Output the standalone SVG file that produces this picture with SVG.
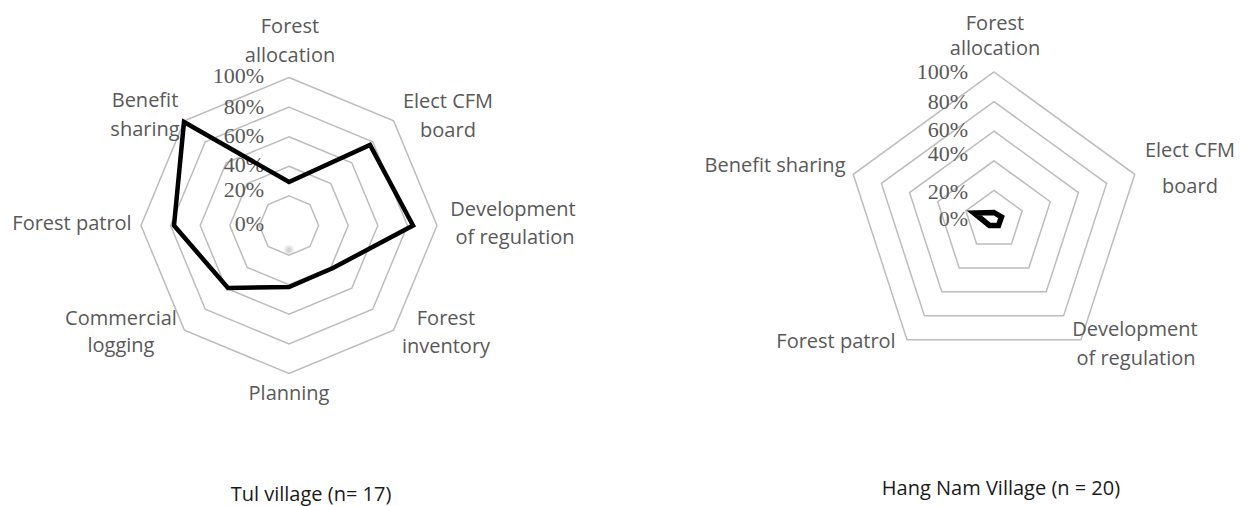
<svg xmlns="http://www.w3.org/2000/svg" width="1243" height="506" viewBox="0 0 1243 506">
<style>
.grid{fill:none;stroke:#bcbcbc;stroke-width:1.5}
.data{fill:none;stroke:#000;stroke-width:4.5;stroke-linejoin:miter;stroke-miterlimit:10}
.small{stroke-width:5.5}
.lbl{font-family:"Open Sans","Liberation Sans",sans-serif;font-size:20px;fill:#595959}
.pct{font-family:"Liberation Serif","DejaVu Serif",serif;font-size:22px;fill:#595959;text-anchor:end}
.cap{font-family:"Open Sans","Liberation Sans",sans-serif;font-size:20px;fill:#1a1a1a;text-anchor:middle}
.m{text-anchor:middle}
</style>
<defs>
<radialGradient id="smudge"><stop offset="0" stop-color="#c8c8c8"/><stop offset="1" stop-color="#c8c8c8" stop-opacity="0"/></radialGradient>
</defs>
<rect width="1243" height="506" fill="#fff"/>

<g id="tul-chart">
<g id="tul-grid">
<polygon class="grid" points="289,77.5 393.65,120.85 437,225.5 393.65,330.15 289,373.5 184.35,330.15 141,225.5 184.35,120.85"/>
<polygon class="grid" points="289,107.1 372.72,141.78 407.4,225.5 372.72,309.22 289,343.9 205.28,309.22 170.6,225.5 205.28,141.78"/>
<polygon class="grid" points="289,136.7 351.79,162.71 377.8,225.5 351.79,288.29 289,314.3 226.21,288.29 200.2,225.5 226.21,162.71"/>
<polygon class="grid" points="289,166.3 330.86,183.64 348.2,225.5 330.86,267.36 289,284.7 247.14,267.36 229.8,225.5 247.14,183.64"/>
<polygon class="grid" points="289,195.9 309.93,204.57 318.6,225.5 309.93,246.43 289,255.1 268.07,246.43 259.4,225.5 268.07,204.57"/>
<circle cx="289" cy="250" r="6" fill="url(#smudge)"/>
</g>
<g id="tul-axis-labels">
<text class="pct" x="264" y="83">100%</text>
<text class="pct" x="264" y="114">80%</text>
<text class="pct" x="264" y="143">60%</text>
<text class="pct" x="264" y="172">40%</text>
<text class="pct" x="264" y="197">20%</text>
<text class="pct" x="264" y="231">0%</text>
</g>
<g id="tul-data">
<polygon class="data" points="289,182 370,145 413,225.5 333,268 289,287 228,288 174,225.5 184,122"/>
</g>
<g id="tul-labels" class="lbl">
<text class="m" x="290" y="33">Forest</text>
<text class="m" x="290" y="62">allocation</text>
<text class="m" x="448" y="108">Elect CFM</text>
<text class="m" x="448" y="137">board</text>
<text class="m" x="513" y="216">Development</text>
<text class="m" x="515" y="244">of regulation</text>
<text class="m" x="446" y="325">Forest</text>
<text class="m" x="446" y="353">inventory</text>
<text class="m" x="289" y="400">Planning</text>
<text class="m" x="121" y="325">Commercial</text>
<text class="m" x="121" y="352">logging</text>
<text class="m" x="72" y="230">Forest patrol</text>
<text class="m" x="145" y="107">Benefit</text>
<text class="m" x="145" y="136">sharing</text>
</g>
<text id="tul-caption" class="cap" x="311" y="501">Tul village (n= 17)</text>
</g>

<g id="hangnam-chart">
<g id="hangnam-grid">
<polygon class="grid" points="994,72 1134.76,174.27 1080.99,339.73 907.01,339.73 853.24,174.27"/>
<polygon class="grid" points="994,101.6 1106.61,183.41 1063.6,315.79 924.4,315.79 881.39,183.41"/>
<polygon class="grid" points="994,131.2 1078.46,192.56 1046.2,291.84 941.8,291.84 909.54,192.56"/>
<polygon class="grid" points="994,160.8 1050.3,201.71 1028.8,267.89 959.2,267.89 937.7,201.71"/>
<polygon class="grid" points="994,190.4 1022.15,210.85 1011.4,243.95 976.6,243.95 965.85,210.85"/>
</g>
<g id="hangnam-axis-labels">
<text class="pct" x="968" y="79">100%</text>
<text class="pct" x="968" y="109">80%</text>
<text class="pct" x="968" y="137">60%</text>
<text class="pct" x="968" y="161">40%</text>
<text class="pct" x="968" y="199">20%</text>
<text class="pct" x="968" y="226">0%</text>
</g>
<g id="hangnam-data">
<polygon class="data small" points="994,212.5 1001.5,217 998.5,225.5 989.5,225.5 974,213"/>
</g>
<g id="hangnam-labels" class="lbl">
<text class="m" x="995" y="30">Forest</text>
<text class="m" x="995" y="55">allocation</text>
<text class="m" x="1190" y="157">Elect CFM</text>
<text class="m" x="1190" y="193">board</text>
<text class="m" x="1135" y="336">Development</text>
<text class="m" x="1136" y="365">of regulation</text>
<text class="m" x="836" y="348">Forest patrol</text>
<text class="m" x="775" y="172">Benefit sharing</text>
</g>
<text id="hangnam-caption" class="cap" x="1001" y="495">Hang Nam Village (n = 20)</text>
</g>
</svg>
